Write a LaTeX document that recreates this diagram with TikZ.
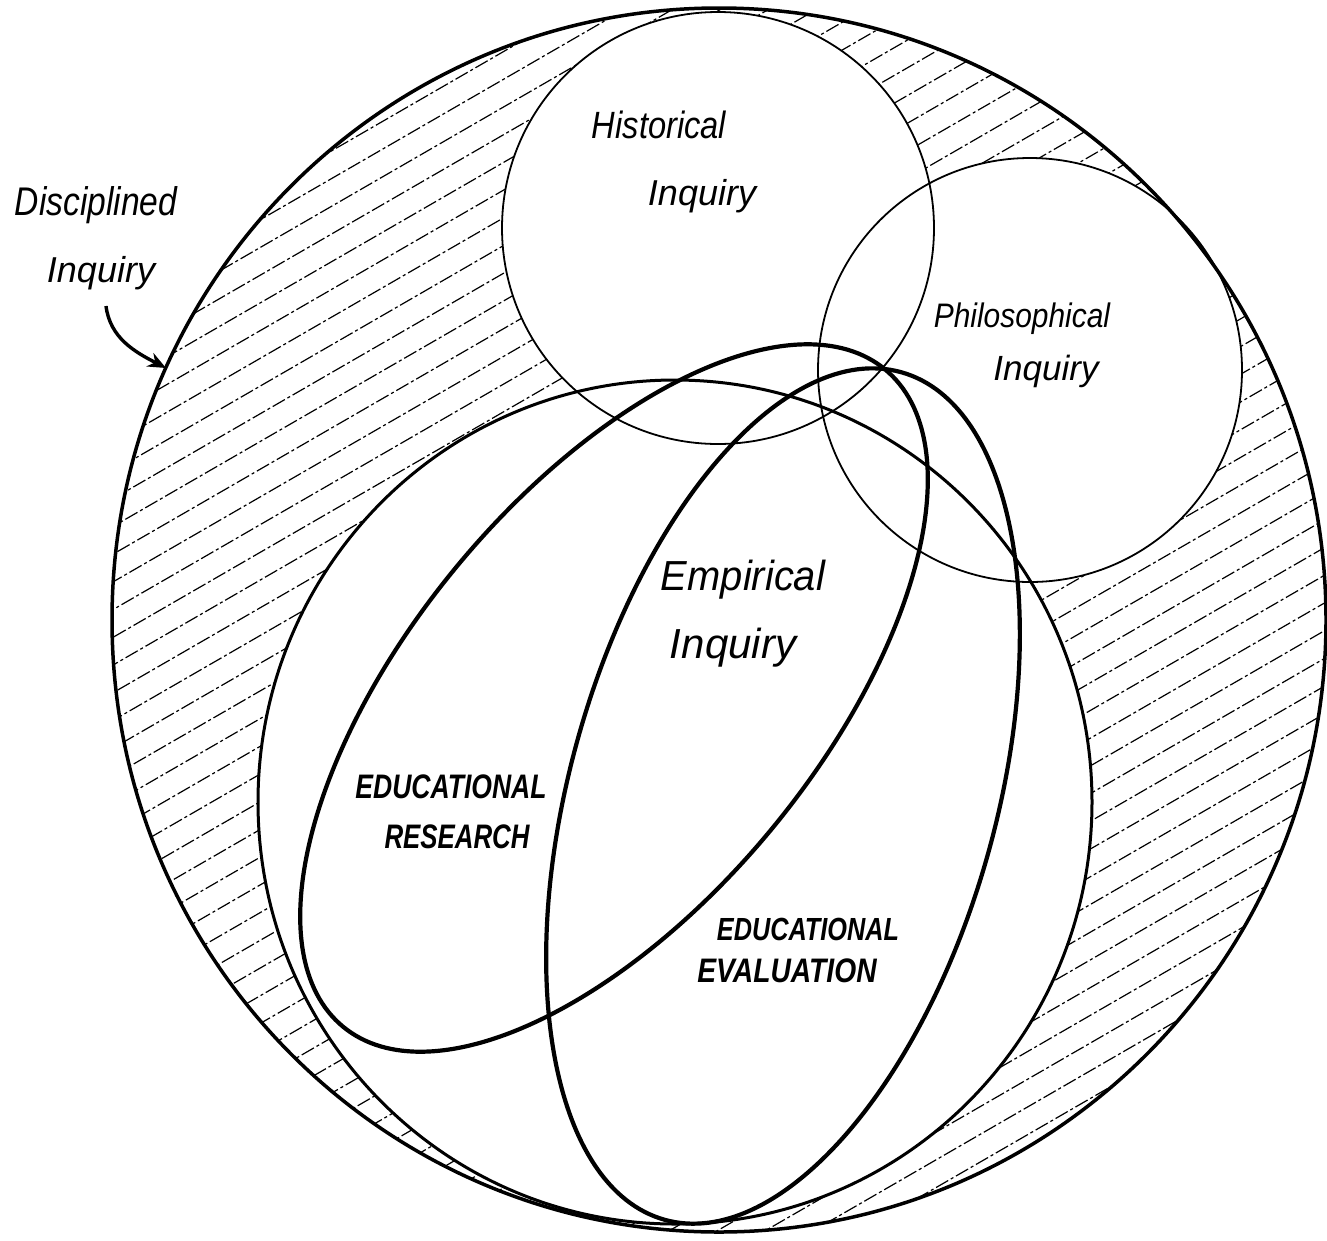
\documentclass[tikz,border=0pt]{standalone}
\usepackage{graphicx}
\usepackage{fontspec}
\setmainfont{Liberation Sans}
\usetikzlibrary{arrows.meta}
% condensed lettering: \narrow{factor}{text}
\newcommand{\narrow}[2]{\scalebox{#1}[1]{#2}}
\begin{document}
\begin{tikzpicture}[x=1pt,y=-1pt,
  hatchline/.style={line width=1.2pt, dash pattern=on 14pt off 3pt on 3pt off 3pt},
  thinring/.style={line width=1.8pt},
  bigring/.style={line width=3.5pt},
  midring/.style={line width=3pt},
  boldring/.style={line width=4.2pt},
  lowlabel/.style={font=\fontsize{#1}{#1}\selectfont\itshape, anchor=base, inner sep=0pt},
  caplabel/.style={font=\fontsize{#1}{#1}\selectfont\bfseries\itshape, anchor=base, inner sep=0pt},
]
\fill[white] (0,0) rectangle (1327,1240);
\useasboundingbox (0,0) rectangle (1327,1240);

% hatching of the part of disciplined inquiry outside the three kinds of inquiry
\begin{scope}
  \clip (719,620) ellipse [x radius=607pt, y radius=612pt];
  \foreach \k in {-28,...,28}
    \draw[hatchline] ({719+12*\k-800},{620+20.785*\k+461.9}) -- ({719+12*\k+800},{620+20.785*\k-461.9});
\end{scope}
\fill[white] (718,228) circle [radius=216pt];
\fill[white] (1030,370) circle [radius=212pt];
\fill[white] (675,802) ellipse [x radius=417pt, y radius=422pt];

% outlines
\draw[bigring] (719,620) ellipse [x radius=607pt, y radius=612pt];
\draw[thinring] (718,228) circle [radius=216pt];
\draw[thinring] (1030,370) circle [radius=212pt];
\draw[midring] (675,802) ellipse [x radius=417pt, y radius=422pt];
\draw[boldring, rotate around={50.5:(614,698)}] (614,698) ellipse [x radius=426pt, y radius=205pt];
\draw[boldring, rotate around={74.4:(783,796)}] (783,796) ellipse [x radius=440pt, y radius=213pt];

% labels
\node[lowlabel=40] (disc1) at (96,215) {\narrow{0.84}{Disciplined}};
\node[lowlabel=36] (disc2) at (101,282) {Inquiry};
\node[lowlabel=38] (hist1) at (659,138) {\narrow{0.86}{Historical}};
\node[lowlabel=36] (hist2) at (702,205) {Inquiry};
\node[lowlabel=34] (phil1) at (1022,327) {\narrow{0.88}{Philosophical}};
\node[lowlabel=35] (phil2) at (1046,380) {Inquiry};
\node[lowlabel=42] (emp1) at (743,590) {\narrow{0.95}{Empirical}};
\node[lowlabel=42] (emp2) at (733,658) {Inquiry};
\node[caplabel=34] (res1) at (451,798) {\narrow{0.78}{EDUCATIONAL}};
\node[caplabel=34] (res2) at (457,848) {\narrow{0.76}{RESEARCH}};
\node[caplabel=32] (eval1) at (808,940) {\narrow{0.79}{EDUCATIONAL}};
\node[caplabel=34] (eval2) at (787,982) {\narrow{0.83}{EVALUATION}};

% pointer to the outer ring
\coordinate (ringpoint) at (166,368);
\draw[line width=3.4pt, -{Stealth[length=18pt,width=15pt]}] (106,306) .. controls (110,338) and (135,352) .. (ringpoint);
\end{tikzpicture}
\end{document}
